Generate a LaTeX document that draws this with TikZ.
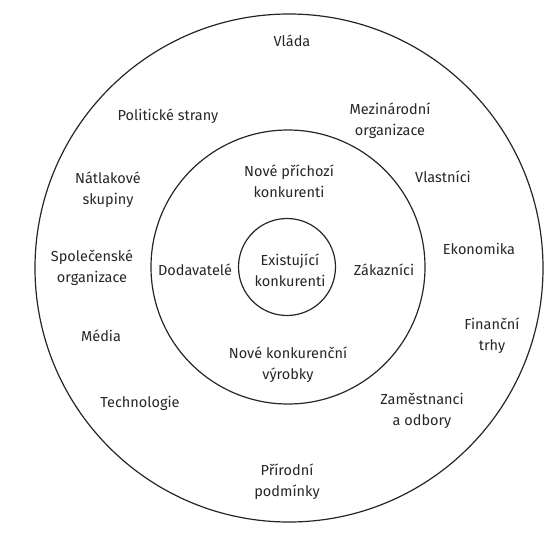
\documentclass[tikz,border=0pt]{standalone}
\usepackage{fontspec}
\setmainfont{Fira Sans}
\begin{document}
\begin{tikzpicture}[x=1pt,y=-1pt,
  ring/.style={draw=black!85,line width=1.2pt},
  lbl/.style={font=\fontsize{14.5}{21}\selectfont,text=black!85,align=center,inner sep=0pt}]
\useasboundingbox (0,0) rectangle (557,533);
\coordinate (c) at (289,268);
\draw[ring] (c) circle[radius=254];
\draw[ring] (288,267) circle[radius=137];
\draw[ring] (287,267) circle[radius=48.5];
\node[lbl] (vlada) at (292,41) {Vláda};
\node[lbl] (polit) at (168,116) {Politické strany};
\node[lbl] (mezin) at (390,121) {Mezinárodní\\organizace};
\node[lbl] (natlak) at (108,190) {Nátlakové\\skupiny};
\node[lbl] (noveprich) at (289,181) {Nové příchozí\\konkurenti};
\node[lbl] (vlast) at (443,177) {Vlastníci};
\node[lbl] (ekon) at (479,249) {Ekonomika};
\node[lbl] (spol) at (92,268) {Společenské\\organizace};
\node[lbl] (dodav) at (195,270) {Dodavatelé};
\node[lbl] (exist) at (290,270) {Existující\\konkurenti};
\node[lbl] (zakaz) at (384,270) {Zákazníci};
\node[lbl] (media) at (101,336) {Média};
\node[lbl] (financ) at (492,336) {Finanční\\trhy};
\node[lbl] (novekonk) at (288,365) {Nové konkurenční\\výrobky};
\node[lbl] (techn) at (140,403) {Technologie};
\node[lbl] (zamest) at (422,411) {Zaměstnanci\\a odbory};
\node[lbl] (prirod) at (287,482) {Přírodní\\podmínky};
\end{tikzpicture}
\end{document}
